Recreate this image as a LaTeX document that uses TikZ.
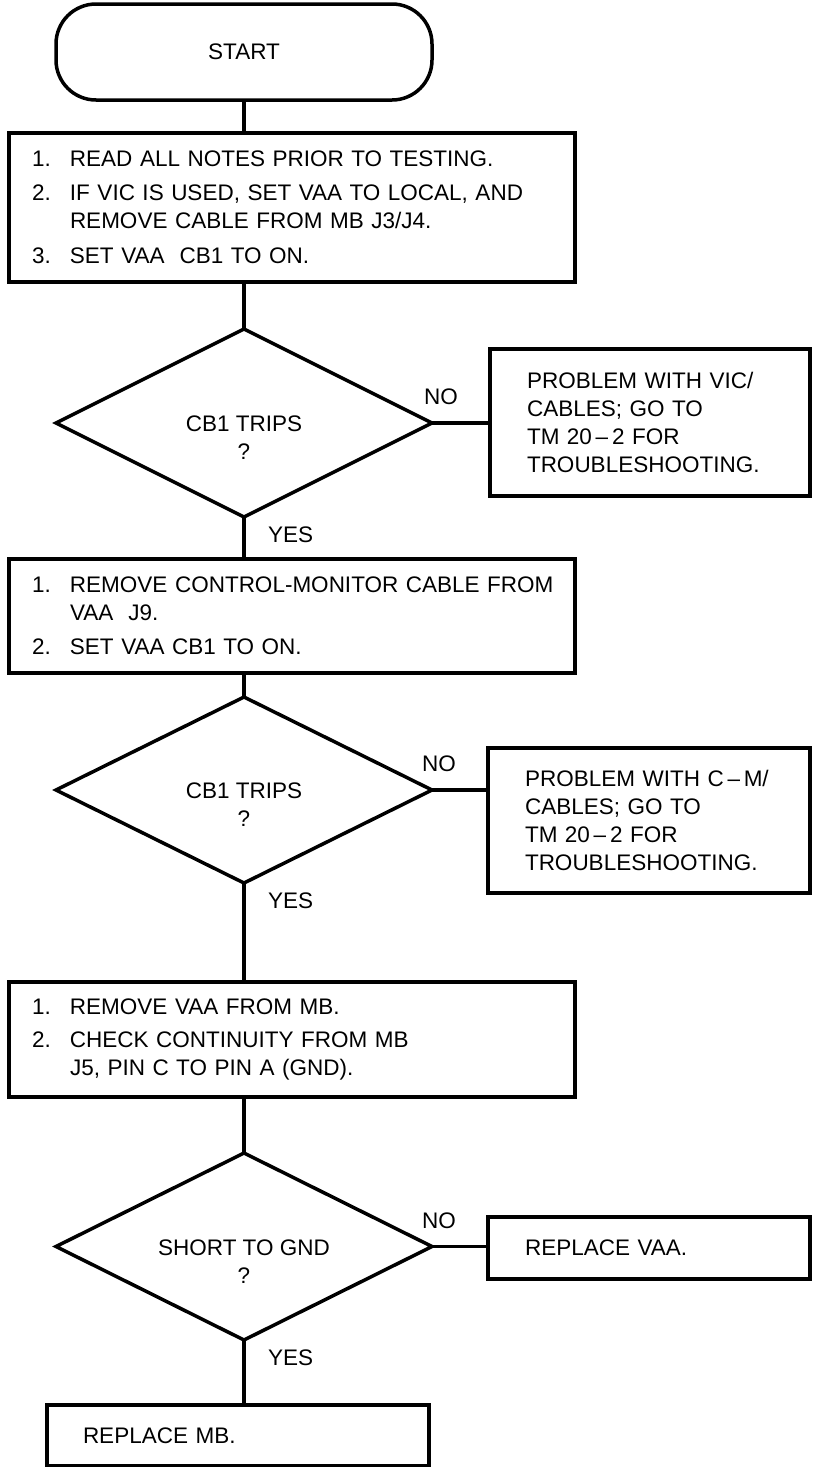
\documentclass[tikz,border=0pt]{standalone}
\usepackage{fontspec}
\setmainfont{Liberation Sans}
\usetikzlibrary{shapes.geometric,calc}
\newcommand\stepitem[2]{\mbox{\makebox[38pt][l]{#1}#2}}
\newcommand\stepcont[1]{\mbox{\hspace*{38pt}#1}}
\begin{document}
\begin{tikzpicture}[x=1pt,y=-1pt,line width=3.5pt,line join=miter,
  every node/.style={font=\fontsize{22.5}{28}\selectfont,outer sep=0pt},
  startbox/.style={draw,rectangle,rounded corners=40pt,minimum width=376pt,minimum height=96pt,inner sep=0pt},
  stepbox/.style={draw,rectangle,align=left,inner ysep=0pt},
  decision/.style={draw,diamond,aspect=2,inner sep=0pt,minimum width=376pt},
  dtext/.style={align=center,inner sep=0pt},
  lbl/.style={inner sep=0pt}]
\useasboundingbox (0,0) rectangle (812,1467);

\node[startbox] (start) at (244,52) {START};

\node[stepbox,inner xsep=23pt,text width=520pt,minimum height=149pt] (b1) at (292,207.5)
  {\stepitem{1.}{READ ALL NOTES PRIOR TO TESTING.}\\[6pt]
   \stepitem{2.}{IF VIC IS USED, SET VAA TO LOCAL, AND}\\
   \stepcont{REMOVE CABLE FROM MB J3/J4.}\\[7pt]
   \stepitem{3.}{SET VAA\ \ CB1 TO ON.}};

\node[decision,minimum height=188pt] (d1) at (244,423) {};
\node[dtext] (d1t) at ([yshift=-15pt]d1.center) {CB1 TRIPS\\?};
\node[stepbox,inner xsep=37pt,text width=246pt,minimum height=147pt] (p1) at (650,422.5)
  {PROBLEM WITH VIC/\\CABLES; GO TO\\TM 20\,–\,2 FOR\\TROUBLESHOOTING.};

\node[stepbox,inner xsep=23pt,text width=520pt,minimum height=114pt] (b2) at (292,616)
  {\stepitem{1.}{REMOVE CONTROL-MONITOR CABLE FROM}\\
   \stepcont{VAA\ \ J9.}\\[6pt]
   \stepitem{2.}{SET VAA CB1 TO ON.}};

\node[decision,minimum height=186pt] (d2) at (244,790) {};
\node[dtext] (d2t) at ([yshift=-15pt]d2.center) {CB1 TRIPS\\?};
\node[stepbox,inner xsep=37pt,text width=248pt,minimum height=145pt] (p2) at (649,820.5)
  {PROBLEM WITH C\,–\,M/\\CABLES; GO TO\\TM 20\,–\,2 FOR\\TROUBLESHOOTING.};

\node[stepbox,inner xsep=23pt,text width=520pt,minimum height=115pt] (b3) at (292,1039.5)
  {\stepitem{1.}{REMOVE VAA FROM MB.}\\[5pt]
   \stepitem{2.}{CHECK CONTINUITY FROM MB}\\
   \stepcont{J5, PIN C TO PIN A (GND).}};

\node[decision,minimum height=187pt] (d3) at (244,1246.5) {};
\node[dtext] (d3t) at ([yshift=-15pt]d3.center) {SHORT TO GND\\?};
\node[stepbox,inner xsep=37pt,text width=248pt,minimum height=62pt] (p3) at (649,1248)
  {REPLACE VAA.};

\node[stepbox,inner xsep=36pt,text width=310pt,minimum height=61pt] (mb) at (238,1435.5)
  {REPLACE MB.};

% labels
\node[lbl] (no1) at ([xshift=9pt,yshift=26pt]d1.east) {NO};
\node[lbl] (no2) at ([xshift=7pt,yshift=26pt]d2.east) {NO};
\node[lbl] (no3) at ([xshift=7pt,yshift=26pt]d3.east) {NO};
\node[lbl,anchor=west] (yes1) at ([xshift=24pt,yshift=-18pt]d1.south) {YES};
\node[lbl,anchor=west] (yes2) at ([xshift=24pt,yshift=-18pt]d2.south) {YES};
\node[lbl,anchor=west] (yes3) at ([xshift=24pt,yshift=-18pt]d3.south) {YES};

% connectors
\draw (start.south) -- (start.south |- b1.north);
\draw (b1.south -| d1.north) -- (d1.north);
\draw (d1.east) -- (p1.west |- d1.east);
\draw (d1.south) -- (d1.south |- b2.north);
\draw (b2.south -| d2.north) -- (d2.north);
\draw (d2.east) -- (p2.west |- d2.east);
\draw (d2.south) -- (d2.south |- b3.north);
\draw (b3.south -| d3.north) -- (d3.north);
\draw (d3.east) -- (p3.west |- d3.east);
\draw (d3.south) -- (d3.south |- mb.north);
\end{tikzpicture}
\end{document}
